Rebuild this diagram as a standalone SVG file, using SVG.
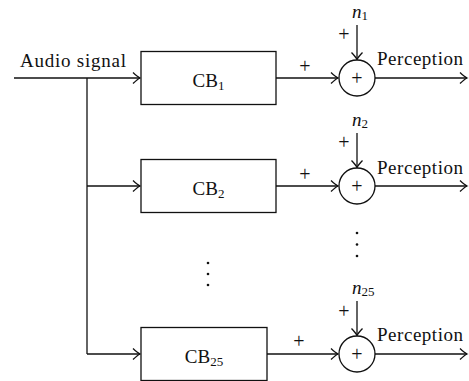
<svg xmlns="http://www.w3.org/2000/svg" width="469" height="381" viewBox="0 0 469 381">
<style>
text{font-family:"Liberation Serif","Times New Roman",serif;fill:#111}
.lbl{font-size:19px}
.cb{font-size:19px;text-anchor:middle}
.sub{font-size:13px}
.n{font-size:19px;font-style:italic}
.pl{font-size:20px;text-anchor:middle}
.box{fill:#fff;stroke:#111;stroke-width:1.3}
.sum{fill:#fff;stroke:#111;stroke-width:1.3}
.ln{fill:none;stroke:#111;stroke-width:1.3}
.ar{marker-end:url(#ah)}
.dot{fill:#111}
</style>
<defs>
<marker id="ah" markerUnits="userSpaceOnUse" markerWidth="12" markerHeight="14" refX="0" refY="0" viewBox="-10 -7 12 14" orient="auto" overflow="visible">
<path d="M-7,-5.5 Q-2.5,-1.2 0,0 Q-2.5,1.2 -7,5.5" fill="none" stroke="#111" stroke-width="1.3"/>
</marker>
</defs>
<g id="connectors">
<path class="ln ar" d="M14,78 H140"/>
<path class="ln" d="M87,78 V354"/>
<path class="ln ar" d="M87,186 H140"/>
<path class="ln ar" d="M87,354 H140"/>
<path class="ln ar" d="M276,78 H338"/>
<path class="ln ar" d="M276,186 H338"/>
<path class="ln ar" d="M267,354 H338"/>
<path class="ln ar" d="M357,25 V59.5"/>
<path class="ln ar" d="M357,133 V167.5"/>
<path class="ln ar" d="M357,301 V335.5"/>
<path class="ln ar" d="M375,78 H467"/>
<path class="ln ar" d="M375,186 H467"/>
<path class="ln ar" d="M375,354 H467"/>
<text class="pl" x="305" y="72.5">+</text>
<text class="pl" x="305" y="180.5">+</text>
<text class="pl" x="299" y="348">+</text>
<text class="pl" x="344" y="40.5">+</text>
<text class="pl" x="344" y="148.5">+</text>
<text class="pl" x="344" y="318">+</text>
</g>
<g id="input">
<text class="lbl" x="20" y="67" textLength="106">Audio signal</text>
</g>
<g id="cb1">
<rect class="box" x="141" y="51.5" width="135" height="53"/>
<text class="cb" x="208.5" y="87">CB<tspan class="sub" dy="3">1</tspan></text>
</g>
<g id="cb2">
<rect class="box" x="141" y="159.5" width="135" height="53"/>
<text class="cb" x="208.5" y="195">CB<tspan class="sub" dy="3">2</tspan></text>
</g>
<g id="cb25">
<rect class="box" x="141" y="327.5" width="126" height="53"/>
<text class="cb" x="204" y="363">CB<tspan class="sub" dy="3">25</tspan></text>
</g>
<g id="dots-boxes">
<circle class="dot" cx="208" cy="263" r="1.3"/>
<circle class="dot" cx="208" cy="274" r="1.3"/>
<circle class="dot" cx="208" cy="285" r="1.3"/>
</g>
<g id="sum1">
<circle class="sum" cx="357" cy="78" r="18"/>
<text class="pl" x="357" y="84.5">+</text>
<text class="n" x="352" y="18">n<tspan class="sub" font-style="normal" dy="2">1</tspan></text>
<text class="lbl" x="377" y="65" textLength="86">Perception</text>
</g>
<g id="sum2">
<circle class="sum" cx="357" cy="186" r="18"/>
<text class="pl" x="357" y="192.5">+</text>
<text class="n" x="352" y="126">n<tspan class="sub" font-style="normal" dy="2">2</tspan></text>
<text class="lbl" x="377" y="174" textLength="86">Perception</text>
</g>
<g id="dots-sums">
<circle class="dot" cx="357" cy="233" r="1.3"/>
<circle class="dot" cx="357" cy="244.5" r="1.3"/>
<circle class="dot" cx="357" cy="256" r="1.3"/>
</g>
<g id="sum25">
<circle class="sum" cx="357" cy="354" r="18"/>
<text class="pl" x="357" y="360.5">+</text>
<text class="n" x="352" y="294">n<tspan class="sub" font-style="normal" dy="2">25</tspan></text>
<text class="lbl" x="377" y="341" textLength="86">Perception</text>
</g>
</svg>
